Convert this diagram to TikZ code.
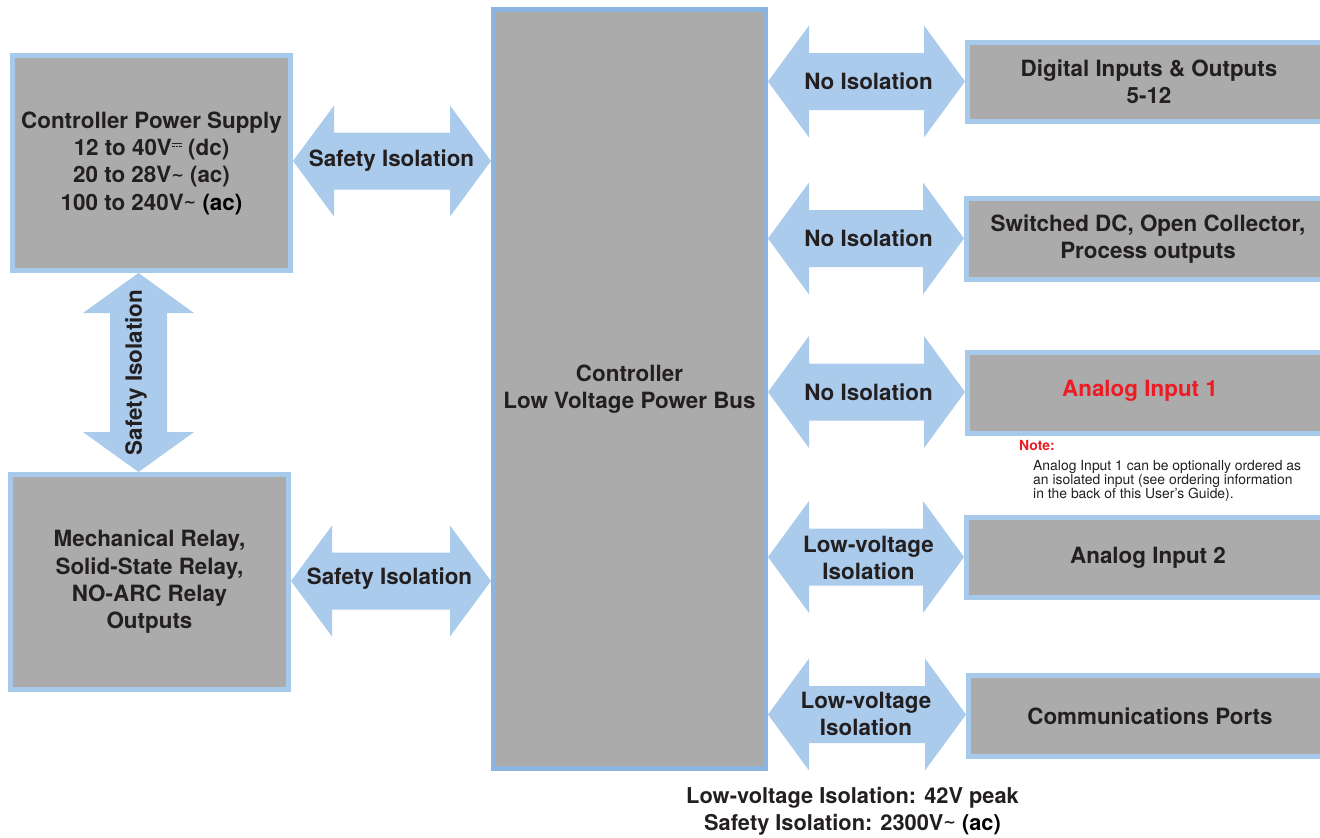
\documentclass[tikz,border=0pt]{standalone}
\usepackage{fontspec}
\setmainfont{TeX Gyre Heros}
\newfontfamily\symfont{DejaVu Sans}
\usetikzlibrary{calc}
\definecolor{gfill}{HTML}{ABABAB}
\definecolor{bord}{HTML}{A8CAEA}
\definecolor{busbord}{HTML}{8BB4E1}
\definecolor{arr}{HTML}{AACBEB}
\definecolor{txt}{HTML}{231F20}
\definecolor{redA}{HTML}{ED1C24}
\newcommand\bigfont{\fontsize{22.4}{27.3}\selectfont\bfseries}
\newcommand\legfont{\fontsize{21.8}{27}\selectfont\bfseries}
\newcommand\notefont{\fontsize{13.9}{14}\selectfont}
\newcommand\dcsym{\raisebox{8.5pt}{\vbox{\hrule width 10pt height 1.4pt \vskip 1.3pt \hbox to 10pt{\rule{2.6pt}{1.3pt}\hfill\rule{2.6pt}{1.3pt}\hfill\rule{2.6pt}{1.3pt}}}}}
\newcommand\actil{{\symfont\fontsize{15}{0}\selectfont\raisebox{2.5pt}{∼}}}
% horizontal double block arrow between two anchors at height #3 (pt)
\newcommand\harrowdraw[5]{% #1 left anchor, #2 right anchor, #3 y, #4 head half, #5 shaft half
  \fill[arr] let \p1=#1, \p2=#2 in
    (\x1,#3) -- (\x1+41pt,#3+#4) -- (\x1+41pt,#3+#5) -- (\x2-41pt,#3+#5)
    -- (\x2-41pt,#3+#4) -- (\x2,#3) -- (\x2-41pt,#3-#4) -- (\x2-41pt,#3-#5)
    -- (\x1+41pt,#3-#5) -- (\x1+41pt,#3-#4) -- cycle;}
\begin{document}
\begin{tikzpicture}[x=1pt,y=1pt,
  box/.style={draw=bord, fill=gfill, line width=5pt, inner sep=0pt, outer sep=2.5pt,
    align=center, text=txt, font=\bigfont},
  busbox/.style={box, draw=busbord},
  lbl/.style={inner sep=0pt, align=center, text=txt, font=\bigfont}]
\useasboundingbox (0,0) rectangle (1320,-838);
\begin{scope}
\clip (0,0) rectangle (1320,-838);
% boxes
\node[box, minimum width=278, minimum height=215] (psu) at (151.5,-163)
  {Controller Power Supply\\12 to 40V\dcsym{} (dc)\\20 to 28V\actil{} (ac)\\100 to 240V\actil{} \textcolor{black}{(ac)}};
\node[box, minimum width=278, minimum height=215] (relay) at (149.5,-582)
  {Mechanical Relay,\\Solid-State Relay,\\NO-ARC Relay\\Outputs};
\node[busbox, minimum width=272, minimum height=759] (bus) at (629.5,-389)
  {Controller\\Low Voltage Power Bus};
\node[box, minimum width=363, minimum height=79] (dig) at (1149,-82)
  {Digital Inputs \& Outputs\\5-12};
\node[box, minimum width=363, minimum height=81] (sw) at (1148,-239)
  {Switched DC, Open Collector,\\Process outputs};
\node[box, minimum width=363, minimum height=81] (an1) at (1149,-393) {};
\node[lbl, text=redA] (an1txt) at (1140,-391) {Analog Input 1};
\node[box, minimum width=363, minimum height=80] (an2) at (1148,-557.5) {Analog Input 2};
\node[box, minimum width=363, minimum height=81] (com) at (1150,-716) {Communications Ports};
% arrows
\harrowdraw{(psu.east)}{(bus.west)}{-161pt}{55.5pt}{28.5pt}
\harrowdraw{(relay.east)}{(bus.west)}{-581pt}{55.5pt}{28.5pt}
\harrowdraw{(bus.east)}{(dig.west)}{-81.5pt}{56pt}{28.5pt}
\harrowdraw{(bus.east)}{(sw.west)}{-238.5pt}{56pt}{28.5pt}
\harrowdraw{(bus.east)}{(an1.west)}{-392pt}{56pt}{28.5pt}
\harrowdraw{(bus.east)}{(an2.west)}{-557pt}{56pt}{28.5pt}
\harrowdraw{(bus.east)}{(com.west)}{-714.5pt}{56pt}{28.5pt}
\fill[arr] let \p1=(psu.south), \p2=(relay.north) in
  (138.5pt,\y1) -- (194pt,\y1-40pt) -- (167pt,\y1-40pt) -- (167pt,\y2+40pt)
  -- (194pt,\y2+40pt) -- (138.5pt,\y2) -- (83pt,\y2+40pt) -- (110pt,\y2+40pt)
  -- (110pt,\y1-40pt) -- (83pt,\y1-40pt) -- cycle;
% arrow labels
\node[lbl] (l1) at (391.5,-161) {Safety Isolation};
\node[lbl] (l2) at (389.5,-579) {Safety Isolation};
\node[lbl, rotate=90] (l3) at (136,-372.5) {Safety Isolation};
\node[lbl] (l4) at (868.5,-81.5) {No Isolation};
\node[lbl] (l5) at (868.5,-238) {No Isolation};
\node[lbl] (l6) at (868.5,-392) {No Isolation};
\node[lbl] (l7) at (868.5,-558) {Low-voltage\\Isolation};
\node[lbl] (l8) at (866,-714) {Low-voltage\\Isolation};
% note
\node[inner sep=0pt, anchor=base west, text=redA, font=\notefont\bfseries] (note) at (1019,-450) {Note:};
\node[inner sep=0pt, anchor=base west, align=left, text=txt, font=\notefont] (notebody) at (1033,-498)
  {Analog Input 1 can be optionally ordered as\\an isolated input (see ordering information\\in the back of this User’s Guide).};
% legend
\node[lbl, font=\legfont] (legend) at (852.5,-811)
  {Low-voltage Isolation: 42V peak\\Safety Isolation: 2300V\actil{} \textcolor{black}{(ac)}};
\end{scope}
\end{tikzpicture}
\end{document}
